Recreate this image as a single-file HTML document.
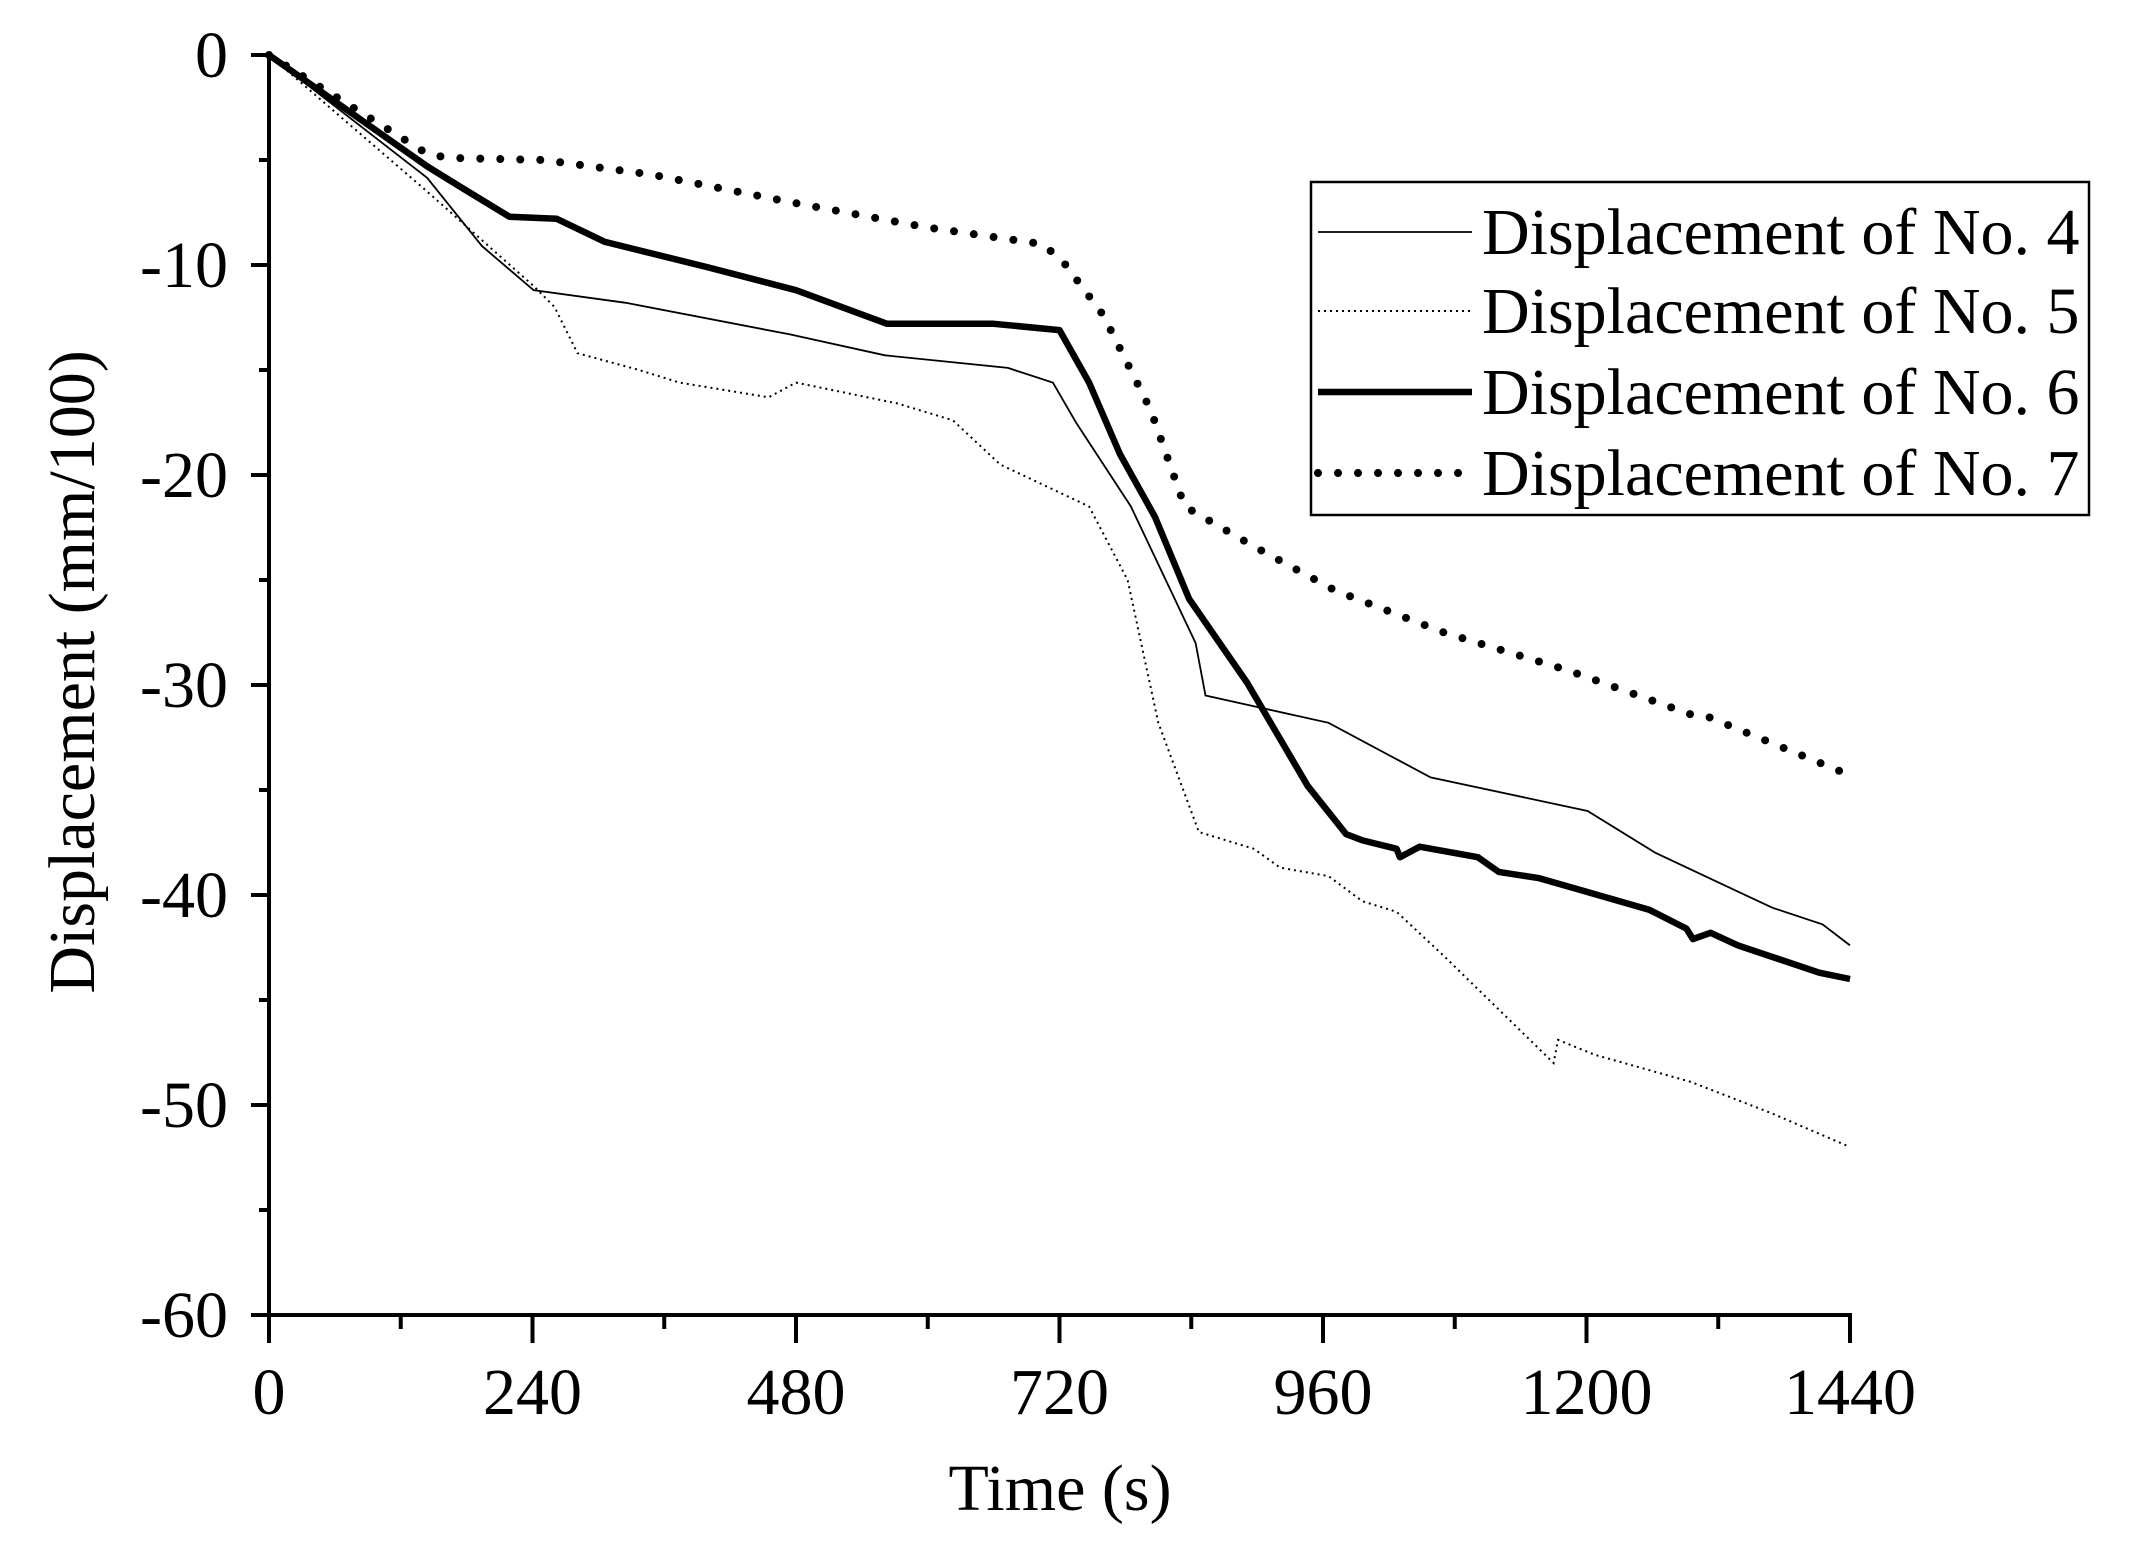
<!DOCTYPE html>
<html><head><meta charset="utf-8"><style>
html,body{margin:0;padding:0;background:#fff;}
svg{display:block;}
text{font-family:"Liberation Serif",serif;fill:#000;}
</style></head><body>
<svg id="s" width="2138" height="1551" viewBox="0 0 2138 1551" xmlns="http://www.w3.org/2000/svg">
<rect width="2138" height="1551" fill="#fff"/>
<g id="g"></g>
<text x="1060" y="1510" font-size="66" text-anchor="middle">Time (s)</text>
<text transform="translate(94,672) rotate(-90)" font-size="66" text-anchor="middle">Displacement (mm/100)</text>
<rect x="1311" y="182" width="778" height="333" fill="#fff" stroke="#000" stroke-width="2.5"/>
<line x1="1318" y1="232" x2="1472" y2="232" stroke="#000" stroke-width="1.8"/>
<line x1="1318" y1="311" x2="1472" y2="311" stroke="#000" stroke-width="2" stroke-dasharray="2 4"/>
<line x1="1318" y1="392" x2="1472" y2="392" stroke="#000" stroke-width="6.5"/>
<line x1="1318" y1="473" x2="1472" y2="473" stroke="#000" stroke-width="8" stroke-dasharray="0 20" stroke-linecap="round"/>
<text x="1482" y="254" font-size="66">Displacement of No. 4</text>
<text x="1482" y="333" font-size="66">Displacement of No. 5</text>
<text x="1482" y="414" font-size="66">Displacement of No. 6</text>
<text x="1482" y="495" font-size="66">Displacement of No. 7</text>
</svg>
<script>
const X=t=>269+t*(1850-269)/1440, Y=v=>55+21*(-v);
const g=document.getElementById('g');let h='';
const pts=a=>a.map(p=>X(p[0]).toFixed(1)+','+Y(p[1]).toFixed(1)).join(' ');
const s4=[[0,0],[144,-5.85],[194,-9.1],[241,-11.2],[325,-11.8],[474,-13.3],[561,-14.3],[673,-14.9],[714,-15.6],[735,-17.5],[785,-21.5],[844,-28],[853,-30.5],[965,-31.8],[1058,-34.4],[1201,-36],[1263,-38],[1369,-40.6],[1415,-41.4],[1440,-42.4]];
const s5=[[0,0],[144,-6.5],[241,-11],[260,-12],[281,-14.2],[337,-15],[374,-15.6],[455,-16.3],[480,-15.6],[573,-16.6],[623,-17.4],[666,-19.5],[747,-21.5],[782,-25],[810,-31.8],[847,-37],[897,-37.8],[921,-38.7],[965,-39.1],[996,-40.3],[1027,-40.8],[1070,-42.9],[1170,-48],[1174,-46.9],[1207,-47.6],[1295,-48.9],[1369,-50.4],[1440,-52]];
const s6=[[0,0],[144,-5.3],[175,-6.3],[219,-7.7],[262,-7.8],[306,-8.9],[399,-10.1],[480,-11.2],[563,-12.8],[660,-12.8],[720,-13.1],[747,-15.6],[775,-19],[807,-22],[838,-25.9],[891,-29.9],[946,-34.8],[981,-37.1],[996,-37.4],[1027,-37.8],[1030,-38.2],[1048,-37.7],[1101,-38.2],[1120,-38.9],[1157,-39.2],[1257,-40.7],[1291,-41.6],[1297,-42.1],[1313,-41.8],[1338,-42.4],[1412,-43.7],[1440,-44]];
const s7=[[0,0],[144,-4.7],[163,-4.9],[250,-5],[349,-5.7],[474,-7],[598,-8.2],[704,-9],[722,-9.75],[760,-12.4],[803,-16.9],[834,-21.5],[897,-23.4],[971,-25.5],[1070,-27.5],[1183,-29.3],[1295,-31.4],[1310,-31.5],[1440,-34.3]];
h+=`<polyline points="${pts(s4)}" fill="none" stroke="#000" stroke-width="1.8"/>`;
h+=`<polyline points="${pts(s5)}" fill="none" stroke="#000" stroke-width="2" stroke-dasharray="2 4"/>`;
h+=`<polyline points="${pts(s6)}" fill="none" stroke="#000" stroke-width="6.5" stroke-linejoin="round"/>`;
h+=`<polyline points="${pts(s7)}" fill="none" stroke="#000" stroke-width="8" stroke-dasharray="0 20" stroke-linecap="round"/>`;
h+=`<line x1="269" y1="53" x2="269" y2="1317" stroke="#000" stroke-width="4"/>`;
h+=`<line x1="267" y1="1315" x2="1852" y2="1315" stroke="#000" stroke-width="4"/>`;
for(let v=0;v>=-60;v-=5){const y=Y(v),maj=v%10==0;h+=`<line x1="${269-(maj?18:10)}" y1="${y}" x2="269" y2="${y}" stroke="#000" stroke-width="4"/>`;
 if(maj)h+=`<text x="228" y="${y+22}" font-size="66" text-anchor="end">${v==0?'0':v}</text>`;}
for(let t=0;t<=1440;t+=120){const x=X(t),maj=t%240==0;h+=`<line x1="${x}" y1="1315" x2="${x}" y2="${1315+(maj?28:14)}" stroke="#000" stroke-width="4"/>`;
 if(maj)h+=`<text x="${x}" y="1414" font-size="66" text-anchor="middle">${t}</text>`;}
g.innerHTML=h;
</script>
</body></html>
